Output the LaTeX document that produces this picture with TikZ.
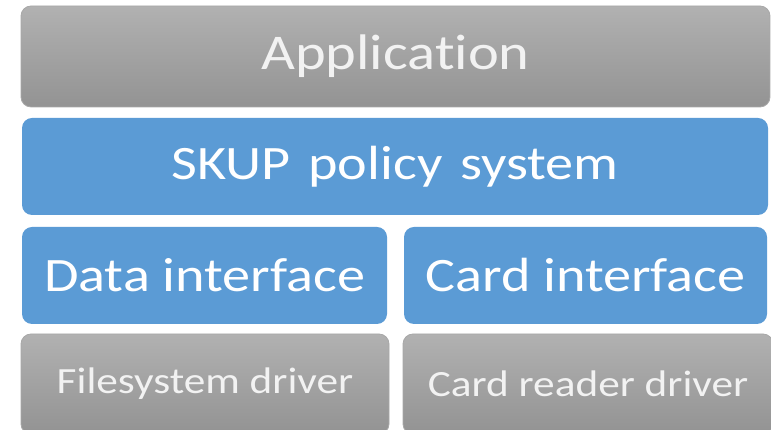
\documentclass[tikz,border=0pt]{standalone}
\usepackage{fontspec}
\setmainfont{Carlito}[FakeStretch=1.17,Ligatures=NoCommon]
\definecolor{SkupBlue}{HTML}{5B9BD5}
\definecolor{GreyTop}{HTML}{B1B1B1}
\definecolor{GreyBot}{HTML}{939393}
\definecolor{GreyLine}{HTML}{A8A8A8}
\tikzset{
    layer/.style={rectangle,rounded corners=10pt,inner sep=0pt,text=white},
    bluelayer/.style={layer,fill=SkupBlue,font=\fontsize{48}{52}\selectfont},
    greylayer/.style={layer,top color=GreyTop,bottom color=GreyBot,draw=GreyLine,line width=0.8pt,text=white!95!black},
}

\begin{document}
\begin{tikzpicture}[x=1pt,y=1pt]
    \useasboundingbox (0,0) rectangle (771,430);
    \clip (0,0) rectangle (771,430);

    % top layers
    \node[greylayer,minimum width=749pt,minimum height=101pt,font=\fontsize{50}{54}\selectfont] (app) at (395.5,373.5) {Application};
    \node[bluelayer,minimum width=746pt,minimum height=97pt] (skup) at (395,263.5) {SKUP\hspace{5pt} policy\hspace{5pt} system};

    % interfaces
    \node[bluelayer,minimum width=365pt,minimum height=97pt] (data) at (204.5,154.5) {Data interface};
    \node[bluelayer,minimum width=363pt,minimum height=97pt] (card) at (585.5,154.5) {Card interface};

    % drivers
    \node[greylayer,minimum width=368pt,minimum height=100pt,font=\fontsize{37}{41}\selectfont] (fs) at (205,46) {Filesystem driver};
    \node[greylayer,minimum width=370pt,minimum height=100pt,font=\fontsize{37}{41}\selectfont] (reader) at (588,46) {Card reader driver};
\end{tikzpicture}
\end{document}
